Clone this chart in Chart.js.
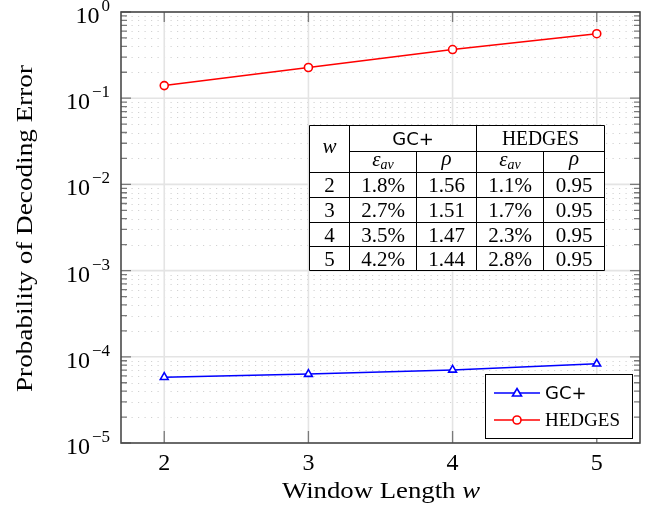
<!DOCTYPE html>
<html lang="en">
<head>
    <meta charset="UTF-8">
    <title>Probability of Decoding Error vs Window Length</title>
    <script src="https://cdn.jsdelivr.net/npm/chart.js"></script>
    <style>
        body {
            margin: 0;
            padding: 0;
            background-color: #ffffff;
        }
        #wrap {
            position: relative;
            width: 648px;
            height: 512px;
        }
    </style>
</head>
<body>
    <div id="wrap">
        <canvas id="errChart" width="648" height="512"></canvas>
    </div>

    <script>
        // Data
        const windowLengths = [2, 3, 4, 5];
        const gcPlusError = [5.8e-5, 6.3e-5, 7.05e-5, 8.3e-5];
        const hedgesError = [0.14, 0.227, 0.367, 0.56];

        // Inset table
        const tableW = ['2', '3', '4', '5'];
        const gcEps = ['1.8%', '2.7%', '3.5%', '4.2%'];
        const gcRho = ['1.56', '1.51', '1.47', '1.44'];
        const hedgesEps = ['1.1%', '1.7%', '2.3%', '2.8%'];
        const hedgesRho = ['0.95', '0.95', '0.95', '0.95'];

        const xTicks = [2, 3, 4, 5];
        const yDecades = [-5, -4, -3, -2, -1, 0];

        const SERIF = '"Liberation Serif", "Times New Roman", serif';
        const SANS = '"DejaVu Sans", "Liberation Sans", sans-serif';

        // draw text squeezed/stretched to a given width
        function fitText(ctx, text, x, y, width) {
            const w = ctx.measureText(text).width;
            ctx.save();
            ctx.translate(x, y);
            ctx.scale(width / w, 1);
            ctx.textAlign = 'left';
            ctx.fillText(text, 0, 0);
            ctx.restore();
        }

        const gridPlugin = {
            id: 'gridPlugin',
            beforeDatasetsDraw(chart) {
                const ctx = chart.ctx;
                const area = chart.chartArea;
                const xs = chart.scales.x;
                const ys = chart.scales.y;
                ctx.save();

                // minor dotted grid
                ctx.strokeStyle = '#d2d2d2';
                ctx.lineWidth = 1;
                ctx.setLineDash([1.2, 5.3]);
                yDecades.forEach(d => {
                    for (let k = 2; k <= 9; k++) {
                        const v = k * Math.pow(10, d);
                        if (v > 1) continue;
                        const py = Math.round(ys.getPixelForValue(v)) + 0.5;
                        ctx.beginPath();
                        ctx.moveTo(area.left + 4, py);
                        ctx.lineTo(area.right, py);
                        ctx.stroke();
                    }
                });
                ctx.setLineDash([]);

                // major grid
                ctx.strokeStyle = '#e4e4e4';
                ctx.lineWidth = 1.6;
                yDecades.forEach(d => {
                    const py = ys.getPixelForValue(Math.pow(10, d));
                    ctx.beginPath();
                    ctx.moveTo(area.left, py);
                    ctx.lineTo(area.right, py);
                    ctx.stroke();
                });
                xTicks.forEach(t => {
                    const px = xs.getPixelForValue(t);
                    ctx.beginPath();
                    ctx.moveTo(px, area.top);
                    ctx.lineTo(px, area.bottom);
                    ctx.stroke();
                });
                ctx.restore();
            },
            afterDatasetsDraw(chart) {
                const ctx = chart.ctx;
                const area = chart.chartArea;
                const xs = chart.scales.x;
                const ys = chart.scales.y;
                ctx.save();

                // ticks inside the frame
                ctx.strokeStyle = '#7a7a7a';
                ctx.lineWidth = 1.3;
                yDecades.forEach(d => {
                    const py = ys.getPixelForValue(Math.pow(10, d));
                    ctx.beginPath();
                    ctx.moveTo(area.left, py); ctx.lineTo(area.left + 10, py);
                    ctx.moveTo(area.right, py); ctx.lineTo(area.right - 10, py);
                    ctx.stroke();
                    for (let k = 2; k <= 9; k++) {
                        const v = k * Math.pow(10, d);
                        if (v > 1) continue;
                        const pm = ys.getPixelForValue(v);
                        ctx.beginPath();
                        ctx.moveTo(area.left, pm); ctx.lineTo(area.left + 6, pm);
                        ctx.moveTo(area.right, pm); ctx.lineTo(area.right - 6, pm);
                        ctx.stroke();
                    }
                });
                xTicks.forEach(t => {
                    const px = xs.getPixelForValue(t);
                    ctx.beginPath();
                    ctx.moveTo(px, area.bottom); ctx.lineTo(px, area.bottom - 12);
                    ctx.moveTo(px, area.top); ctx.lineTo(px, area.top + 10);
                    ctx.stroke();
                });

                // frame
                ctx.strokeStyle = '#4a4a4a';
                ctx.lineWidth = 1.6;
                ctx.strokeRect(area.left, area.top, area.right - area.left, area.bottom - area.top);

                // tick labels
                ctx.fillStyle = '#000';
                ctx.textBaseline = 'alphabetic';
                ctx.font = '24px ' + SERIF;
                ctx.textAlign = 'center';
                xTicks.forEach(t => {
                    ctx.fillText(String(t), xs.getPixelForValue(t), area.bottom + 27);
                });
                yDecades.forEach(d => {
                    const py = ys.getPixelForValue(Math.pow(10, d));
                    const sup = d < 0 ? '\u2212' + (-d) : String(d);
                    ctx.font = '17px ' + SERIF;
                    const sw = ctx.measureText(sup).width;
                    ctx.textAlign = 'right';
                    ctx.fillText(sup, 110, py - 1);
                    ctx.font = '24px ' + SERIF;
                    ctx.fillText('10', 110 - sw - 2, py + 11);
                });

                // axis titles
                ctx.textAlign = 'left';
                const xt1 = 'Window Length ';
                ctx.font = '24px ' + SERIF;
                const w1 = ctx.measureText(xt1).width;
                ctx.font = 'italic 24px ' + SERIF;
                const w2 = ctx.measureText('w').width;
                const sx = 198 / (w1 + w2);
                ctx.save();
                ctx.translate(282, 498);
                ctx.scale(sx, 1);
                ctx.font = '24px ' + SERIF;
                ctx.fillText(xt1, 0, 0);
                ctx.font = 'italic 24px ' + SERIF;
                ctx.fillText('w', w1, 0);
                ctx.restore();

                ctx.save();
                ctx.translate(32, 392);
                ctx.rotate(-Math.PI / 2);
                ctx.font = '24px ' + SERIF;
                fitText(ctx, 'Probability of Decoding Error', 0, 0, 327);
                ctx.restore();

                drawTable(ctx);
                drawLegend(ctx);
                ctx.restore();
            }
        };

        function drawTable(ctx) {
            const L = 309.5, T = 125.5, R = 604.5, B = 270.5;
            const cols = [L, 349.5, 416.5, 476.5, 543.5, R];
            const rows = [T, 151.5, 172.5, 197.5, 222.5, 246.5, B];
            ctx.save();
            ctx.fillStyle = '#fff';
            ctx.fillRect(L, T, R - L, B - T);
            ctx.strokeStyle = '#000';
            ctx.lineWidth = 1;
            ctx.beginPath();
            ctx.rect(L, T, R - L, B - T);
            // vertical lines
            ctx.moveTo(cols[1], T); ctx.lineTo(cols[1], B);
            ctx.moveTo(cols[3], T); ctx.lineTo(cols[3], B);
            ctx.moveTo(cols[2], rows[1]); ctx.lineTo(cols[2], B);
            ctx.moveTo(cols[4], rows[1]); ctx.lineTo(cols[4], B);
            // horizontal lines
            ctx.moveTo(cols[1], rows[1]); ctx.lineTo(R, rows[1]);
            for (let i = 2; i < rows.length - 1; i++) {
                ctx.moveTo(L, rows[i]); ctx.lineTo(R, rows[i]);
            }
            ctx.stroke();

            ctx.fillStyle = '#000';
            ctx.textAlign = 'center';
            ctx.textBaseline = 'alphabetic';
            const cx = i => (cols[i] + cols[i + 1]) / 2;

            // headers
            ctx.font = 'italic 21px ' + SERIF;
            ctx.fillText('w', cx(0), 153);
            ctx.font = '18px ' + SANS;
            ctx.fillText('GC+', (cols[1] + cols[3]) / 2, 145);
            ctx.font = '20px ' + SERIF;
            fitText(ctx, 'HEDGES', (cols[3] + cols[5]) / 2 - 38.5, 145, 77);

            [1, 3].forEach(c => {
                ctx.font = 'italic 21px ' + SERIF;
                const ew = ctx.measureText('\u03b5').width;
                ctx.font = 'italic 14px ' + SERIF;
                const sw = ctx.measureText('av').width;
                const x0 = cx(c) - (ew + sw) / 2;
                ctx.textAlign = 'left';
                ctx.font = 'italic 21px ' + SERIF;
                ctx.fillText('\u03b5', x0, 166);
                ctx.font = 'italic 14px ' + SERIF;
                ctx.fillText('av', x0 + ew, 169);
                ctx.textAlign = 'center';
                ctx.font = 'italic 21px ' + SERIF;
                ctx.fillText('\u03c1', cx(c + 1), 165);
            });

            // body
            ctx.font = '21px ' + SERIF;
            const colsData = [tableW, gcEps, gcRho, hedgesEps, hedgesRho];
            for (let r = 0; r < tableW.length; r++) {
                const yMid = (rows[r + 2] + rows[r + 3]) / 2;
                colsData.forEach((arr, c) => {
                    ctx.fillText(arr[r], cx(c), yMid + 7);
                });
            }
            ctx.restore();
        }

        function drawLegend(ctx) {
            const L = 485.5, T = 374.5, R = 632.5, B = 438.5;
            ctx.save();
            ctx.fillStyle = '#fff';
            ctx.fillRect(L, T, R - L, B - T);
            ctx.strokeStyle = '#000';
            ctx.lineWidth = 1;
            ctx.strokeRect(L, T, R - L, B - T);

            const items = [
                { label: 'GC+', color: '#0000ff', style: 'triangle', font: '18px ' + SANS, y: 393 },
                { label: 'HEDGES', color: '#ff0000', style: 'circle', font: '19px ' + SERIF, y: 420 }
            ];
            items.forEach(it => {
                ctx.strokeStyle = it.color;
                ctx.lineWidth = 1.5;
                ctx.beginPath();
                ctx.moveTo(494, it.y); ctx.lineTo(540, it.y);
                ctx.stroke();
                ctx.fillStyle = '#fff';
                ctx.beginPath();
                if (it.style === 'circle') {
                    ctx.arc(517, it.y, 4, 0, Math.PI * 2);
                } else {
                    ctx.moveTo(517, it.y - 4.5);
                    ctx.lineTo(521.5, it.y + 3);
                    ctx.lineTo(512.5, it.y + 3);
                    ctx.closePath();
                }
                ctx.fill();
                ctx.lineWidth = 1.6;
                ctx.stroke();
                ctx.fillStyle = '#000';
                ctx.font = it.font;
                ctx.textAlign = 'left';
                ctx.fillText(it.label, 545, it.y + 6);
            });
            ctx.restore();
        }

        const ctx = document.getElementById('errChart').getContext('2d');

        const chart = new Chart(ctx, {
            type: 'line',
            data: {
                datasets: [{
                    label: 'GC+',
                    data: windowLengths.map((w, i) => ({ x: w, y: gcPlusError[i] })),
                    borderColor: '#0000ff',
                    backgroundColor: '#ffffff',
                    borderWidth: 1.5,
                    pointStyle: 'triangle',
                    pointRadius: 4.5,
                    pointBorderWidth: 1.6,
                    pointBackgroundColor: '#ffffff',
                    pointBorderColor: '#0000ff',
                    tension: 0,
                    fill: false
                }, {
                    label: 'HEDGES',
                    data: windowLengths.map((w, i) => ({ x: w, y: hedgesError[i] })),
                    borderColor: '#ff0000',
                    backgroundColor: '#ffffff',
                    borderWidth: 1.5,
                    pointStyle: 'circle',
                    pointRadius: 4,
                    pointBorderWidth: 1.6,
                    pointBackgroundColor: '#ffffff',
                    pointBorderColor: '#ff0000',
                    tension: 0,
                    fill: false
                }]
            },
            options: {
                responsive: false,
                animation: false,
                layout: {
                    padding: { left: 121, top: 12, right: 8, bottom: 69 }
                },
                scales: {
                    x: {
                        type: 'linear',
                        min: 1.7,
                        max: 5.3,
                        display: false
                    },
                    y: {
                        type: 'logarithmic',
                        min: 1e-5,
                        max: 1,
                        display: false
                    }
                },
                plugins: {
                    legend: { display: false },
                    tooltip: { enabled: false }
                }
            },
            plugins: [gridPlugin]
        });
    </script>
</body>
</html>
